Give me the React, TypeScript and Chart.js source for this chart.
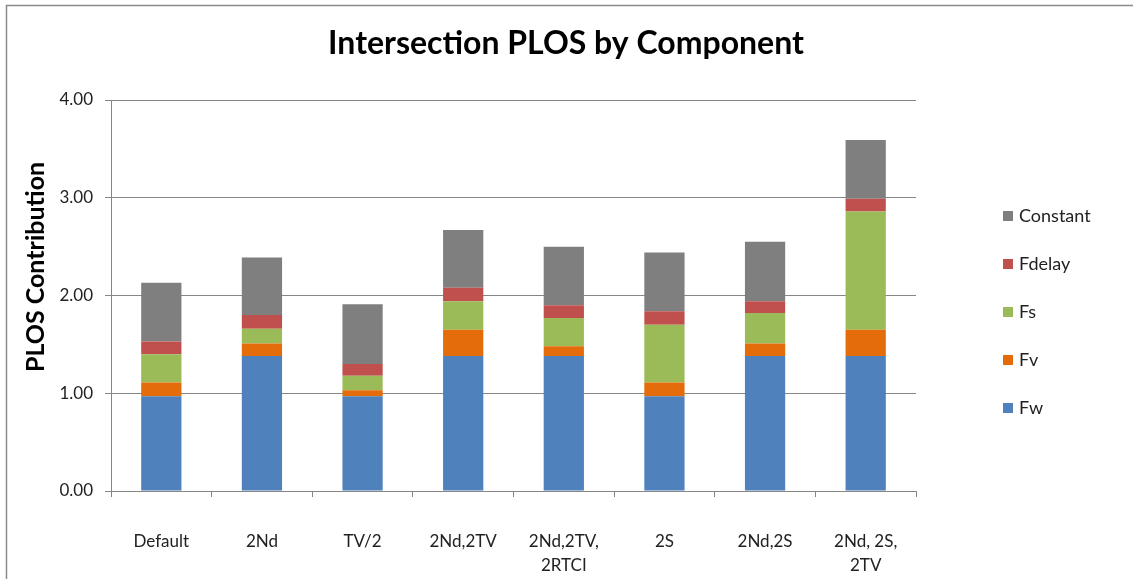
import React, { useEffect, useRef } from "react";
import { Chart, registerables } from "chart.js";

Chart.register(...registerables);

const categories: (string | string[])[] = [
  "Default",
  "2Nd",
  "TV/2",
  "2Nd,2TV",
  ["2Nd,2TV,", "2RTCI"],
  "2S",
  "2Nd,2S",
  ["2Nd, 2S,", "2TV"],
];

const fw = [0.97, 1.38, 0.97, 1.38, 1.38, 0.97, 1.38, 1.38];
const fv = [0.14, 0.13, 0.06, 0.27, 0.1, 0.14, 0.13, 0.27];
const fs = [0.29, 0.15, 0.15, 0.29, 0.29, 0.59, 0.31, 1.21];
const fdelay = [0.13, 0.14, 0.12, 0.14, 0.13, 0.14, 0.12, 0.13];
const constant = [0.6, 0.59, 0.61, 0.59, 0.6, 0.6, 0.61, 0.6];

const seriesNames = ["Fw", "Fv", "Fs", "Fdelay", "Constant"];
const seriesColors = ["#4F81BD", "#E46C0A", "#9BBB59", "#C0504D", "#7F7F7F"];

const chartTitle = "Intersection PLOS by Component";
const yTitle = "PLOS Contribution";

const FONT = "Lato, 'Liberation Sans', sans-serif";

const overlayPlugin = {
  id: "overlay",
  afterDraw(chart: any) {
    const ctx = chart.ctx as CanvasRenderingContext2D;
    ctx.save();
    // outer border (left and top visible)
    ctx.strokeStyle = "#8a8a8a";
    ctx.lineWidth = 1.5;
    ctx.beginPath();
    ctx.moveTo(6.5, 600);
    ctx.lineTo(6.5, 5.5);
    ctx.lineTo(1140, 5.5);
    ctx.stroke();

    // title
    ctx.fillStyle = "#000";
    ctx.font = `bold 32px ${FONT}`;
    ctx.textAlign = "center";
    ctx.textBaseline = "middle";
    ctx.fillText(chartTitle, 566, 44);

    // y title
    ctx.save();
    ctx.translate(36, 267);
    ctx.rotate(-Math.PI / 2);
    ctx.font = `bold 25px ${FONT}`;
    ctx.fillText(yTitle, 0, 0);
    ctx.restore();

    // legend (reverse order of stacking)
    const ds = chart.data.datasets;
    ctx.font = `18px ${FONT}`;
    ctx.textAlign = "left";
    ctx.textBaseline = "middle";
    for (let i = 0; i < ds.length; i++) {
      const d = ds[ds.length - 1 - i];
      const y = 216 + i * 48;
      ctx.fillStyle = d.backgroundColor;
      ctx.fillRect(1003, y - 5, 10, 10);
      ctx.fillStyle = "#222";
      ctx.fillText(d.label, 1019, y);
    }
    ctx.restore();
  },
};

export default function App() {
  const ref = useRef<HTMLCanvasElement | null>(null);
  useEffect(() => {
    document.body.style.margin = "0";
    const canvas = ref.current!;
    const values = [fw, fv, fs, fdelay, constant];
    const chart = new Chart(canvas, {
      type: "bar",
      data: {
        labels: categories,
        datasets: seriesNames.map((n, i) => ({
          label: n,
          data: values[i],
          backgroundColor: seriesColors[i],
          borderWidth: 0,
          barPercentage: 0.4,
          categoryPercentage: 1,
        })),
      },
      options: {
        responsive: false,
        animation: false,
        devicePixelRatio: 1,
        layout: { padding: { left: 10, right: 217, top: 100, bottom: 0 } },
        plugins: {
          legend: { display: false },
          title: { display: false },
          tooltip: { enabled: false },
        },
        scales: {
          x: {
            stacked: true,
            afterFit: (s: any) => {
              s.height = 88;
            },
            border: { display: true, color: "#868686", width: 1 },
            grid: {
              offset: true,
              drawOnChartArea: false,
              drawTicks: true,
              tickLength: 6,
              color: "#868686",
            },
            ticks: {
              color: "#222",
              padding: 33,
              maxRotation: 0,
              autoSkip: false,
              font: { family: FONT, size: 17, lineHeight: 1.4 },
            },
          },
          y: {
            stacked: true,
            min: 0,
            max: 4,
            afterFit: (s: any) => {
              s.width = 101;
            },
            border: { display: true, color: "#868686", width: 1 },
            grid: {
              color: "#868686",
              drawTicks: true,
              tickLength: 6,
            },
            ticks: {
              stepSize: 1,
              color: "#222",
              padding: 12,
              font: { family: FONT, size: 17 },
              callback: (v: any) => Number(v).toFixed(2),
            },
          },
        },
      },
      plugins: [overlayPlugin],
    });
    return () => chart.destroy();
  }, []);
  return (
    <div style={{ width: 1133, height: 579 }}>
      <canvas ref={ref} width={1133} height={579} style={{ display: "block" }} />
    </div>
  );
}
